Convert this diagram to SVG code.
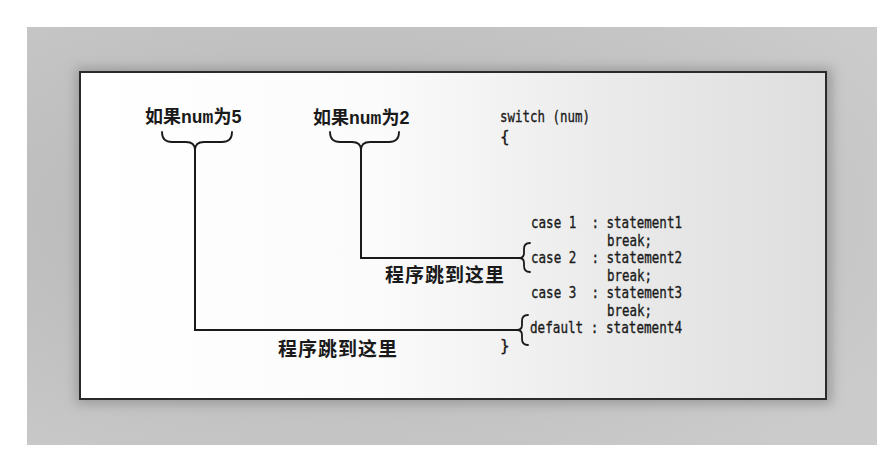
<svg xmlns="http://www.w3.org/2000/svg" width="888" height="463" viewBox="0 0 888 463">
  <defs>
    <linearGradient id="panelFill" x1="0" y1="0" x2="1" y2="0">
      <stop offset="0" stop-color="#ffffff"/>
      <stop offset="0.4" stop-color="#fbfbfb"/>
      <stop offset="0.7" stop-color="#ebebeb"/>
      <stop offset="1" stop-color="#dedede"/>
    </linearGradient>
    <radialGradient id="frameFill" cx="0.35" cy="0.45" r="0.75">
      <stop offset="0" stop-color="#b4b4b4"/>
      <stop offset="1" stop-color="#cbcbcb"/>
    </radialGradient>
    <filter id="soft" x="-10%" y="-10%" width="120%" height="120%">
      <feGaussianBlur stdDeviation="6"/>
    </filter>
  </defs>
  <style>
    .label { font-family: "Noto Sans CJK SC", sans-serif; font-weight: bold; font-size: 18px; fill: #1a1a1a; }
    .mono { font-family: "Liberation Mono", "DejaVu Sans Mono", monospace; font-weight: bold; }
    .digit { font-family: "Liberation Sans", sans-serif; font-weight: bold; }
    .note { font-family: "Noto Sans CJK SC", sans-serif; font-weight: bold; font-size: 19px; letter-spacing: 1px; fill: #1a1a1a; }
    .code { font-family: "DejaVu Sans Mono", monospace; font-size: 16px; fill: #1a1a1a; stroke: #1a1a1a; stroke-width: 0.35; white-space: pre; }
    .line { fill: none; stroke: #1a1a1a; stroke-width: 2; }
    .brace { fill: none; stroke: #1a1a1a; stroke-width: 1.8; stroke-linecap: round; }
  </style>

  <!-- page background and grey frame -->
  <rect x="0" y="0" width="888" height="463" fill="#ffffff"/>
  <rect x="27" y="27" width="850" height="418" fill="url(#frameFill)"/>
  <rect x="76" y="68" width="756" height="336" fill="#8a8a8a" filter="url(#soft)" opacity="0.7"/>

  <!-- white panel -->
  <rect x="80" y="72" width="746" height="327" fill="url(#panelFill)" stroke="#2a2a2a" stroke-width="2"/>

  <!-- condition labels with their braces -->
  <g id="label-num5">
    <text class="label" x="145" y="123">如果<tspan class="mono">num</tspan>为<tspan class="digit">5</tspan></text>
    <path class="brace" d="M162,132 Q162,142 172,142 L186,142 Q195,142 195,150 Q195,142 204,142 L222,142 Q232,142 232,132"/>
  </g>
  <g id="label-num2">
    <text class="label" x="313" y="124">如果<tspan class="mono">num</tspan>为<tspan class="digit">2</tspan></text>
    <path class="brace" d="M330,132 Q330,142 340,142 L352,142 Q361,142 361,150 Q361,142 370,142 L389,142 Q399,142 399,132"/>
  </g>

  <!-- switch statement -->
  <g id="code">
    <text class="code" x="500" y="122" textLength="90" lengthAdjust="spacingAndGlyphs">switch (num)</text>
    <text class="code" x="500" y="142" font-size="14">{</text>
    <text class="code" x="531" y="228" textLength="151" lengthAdjust="spacingAndGlyphs">case 1  : statement1</text>
    <text class="code" x="607" y="245.5" textLength="45" lengthAdjust="spacingAndGlyphs">break;</text>
    <text class="code" x="531" y="263" textLength="151" lengthAdjust="spacingAndGlyphs">case 2  : statement2</text>
    <text class="code" x="607" y="280.5" textLength="45" lengthAdjust="spacingAndGlyphs">break;</text>
    <text class="code" x="531" y="298" textLength="151" lengthAdjust="spacingAndGlyphs">case 3  : statement3</text>
    <text class="code" x="607" y="315.5" textLength="45" lengthAdjust="spacingAndGlyphs">break;</text>
    <text class="code" x="530" y="333" textLength="152" lengthAdjust="spacingAndGlyphs">default : statement4</text>
    <text class="code" x="500" y="351" font-size="14">}</text>
  </g>

  <!-- jump targets -->
  <g id="target-case2">
    <path class="brace" d="M530,243 Q524,243 524,249 L524,253 Q524,258 519,258 Q524,258 524,263 L524,266 Q524,272 530,272"/>
    <text class="note" x="385" y="282">程序跳到这里</text>
  </g>
  <g id="target-default">
    <path class="brace" d="M528,315 Q522,315 522,321 L522,325 Q522,330 517,330 Q522,330 522,335 L522,339 Q522,345 528,345"/>
    <text class="note" x="278" y="356">程序跳到这里</text>
  </g>

  <!-- connectors from each label down to its case -->
  <g id="connectors">
    <path class="line" d="M361,150 V258 H519"/>
    <path class="line" d="M195,150 V330 H517"/>
  </g>
</svg>
